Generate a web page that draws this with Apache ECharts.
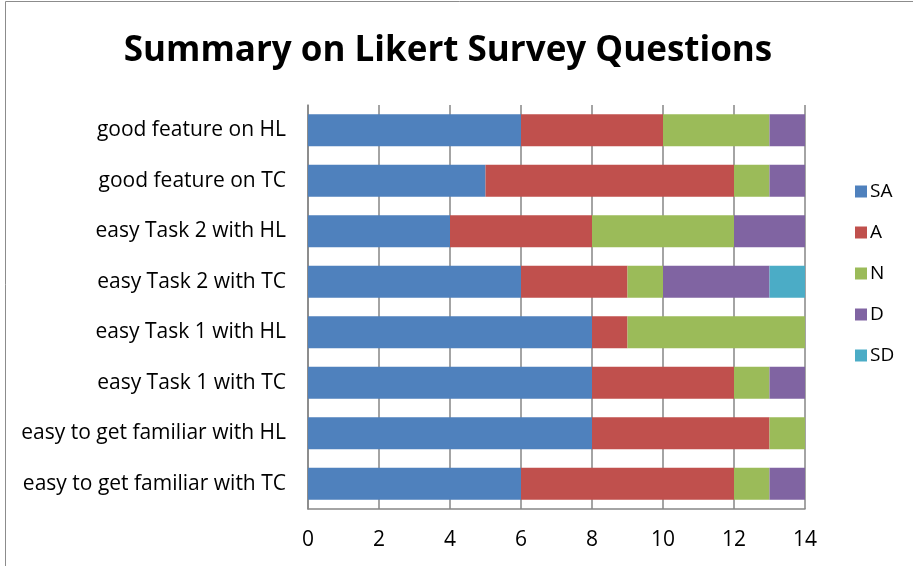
<!DOCTYPE html>
<html>
<head>
<meta charset="utf-8">
<script src="https://cdn.jsdelivr.net/npm/echarts@6/dist/echarts.min.js"></script>
<style>
  html, body { margin: 0; padding: 0; background: #fff; }
  #chart { width: 913px; height: 566px; }
</style>
</head>
<body>
<div id="chart"></div>
<script>
// questions, listed top to bottom
const questions = [
  'good feature on HL',
  'good feature on TC',
  'easy Task 2 with HL',
  'easy Task 2 with TC',
  'easy Task 1 with HL',
  'easy Task 1 with TC',
  'easy to get familiar with HL',
  'easy to get familiar with TC'
]
const sa = [6, 5, 4, 6, 8, 8, 8, 6]
const a = [4, 7, 4, 3, 1, 4, 5, 6]
const n = [3, 1, 4, 1, 5, 1, 1, 1]
const d = [1, 1, 2, 3, 0, 1, 0, 1]
const sd = [0, 0, 0, 1, 0, 0, 0, 0]

const font = 'Open Sans'
const makeSeries = (name, data, color) => ({
  name: name,
  type: 'bar',
  stack: 'total',
  data: data,
  barWidth: 32,
  itemStyle: { color: color }
})

const chart = echarts.init(document.getElementById('chart'))
chart.setOption({
  animation: false,
  title: {
    text: 'Summary on Likert Survey Questions',
    left: 443,
    top: 29,
    textAlign: 'center',
    textStyle: { fontFamily: font, fontWeight: 'bold', fontSize: 35, color: '#000' }
  },
  graphic: [{
    type: 'rect',
    shape: { x: 5.5, y: 1.5, width: 920, height: 580 },
    style: { fill: 'none', stroke: '#8c8c8c', lineWidth: 1 },
    silent: true
  }],
  legend: {
    orient: 'vertical',
    left: 850,
    top: 177,
    itemWidth: 12,
    itemHeight: 12,
    itemGap: 22,
    icon: 'rect',
    textStyle: { fontFamily: font, fontSize: 19, color: '#000', padding: [0, 0, 0, -2] },
    data: ['SA', 'A', 'N', 'D', 'SD']
  },
  grid: { left: 308, right: 108, top: 105, bottom: 57 },
  xAxis: {
    type: 'value',
    min: 0,
    max: 14,
    interval: 2,
    axisLine: { show: true, lineStyle: { color: '#868686', width: 1.5 } },
    axisTick: { show: false },
    splitLine: { lineStyle: { color: '#868686', width: 1.5 } },
    axisLabel: { fontFamily: font, fontSize: 21, color: '#000', margin: 21 }
  },
  yAxis: {
    type: 'category',
    inverse: true,
    data: questions,
    axisLine: { lineStyle: { color: '#868686', width: 1.5 } },
    axisTick: { show: false },
    axisLabel: { fontFamily: font, fontSize: 21, color: '#000', margin: 22 }
  },
  series: [
    makeSeries('SA', sa, '#4F81BD'),
    makeSeries('A', a, '#C0504D'),
    makeSeries('N', n, '#9BBB59'),
    makeSeries('D', d, '#8064A2'),
    makeSeries('SD', sd, '#4BACC6')
  ]
})
</script>
</body>
</html>
